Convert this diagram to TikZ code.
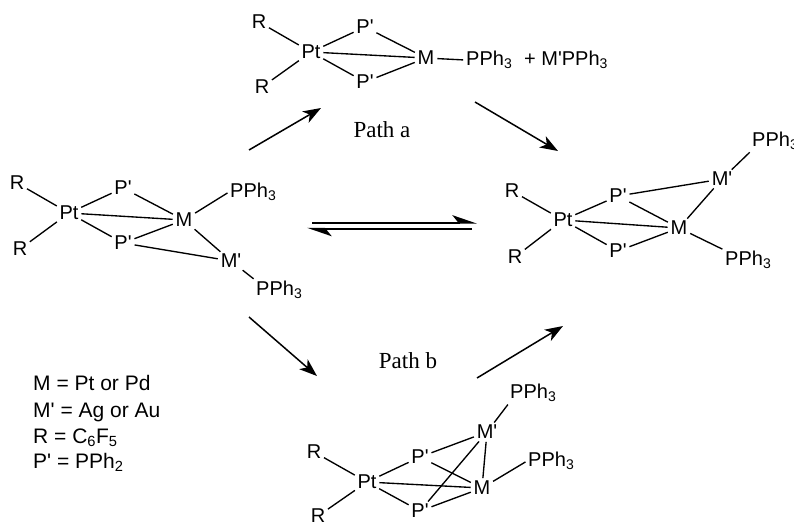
\documentclass[tikz,border=0pt]{standalone}
\usepackage{fontspec}
\setmainfont{Liberation Sans}
\newfontfamily\chemfont{Liberation Sans}
\newfontfamily\pathfont{Liberation Serif}
\usetikzlibrary{arrows.meta}
\tikzset{
  atom/.style={inner sep=1pt,font=\fontsize{20}{22}\chemfont},
  bond/.style={line width=1.35pt,shorten >=1.8pt,shorten <=1.8pt},
  rxn/.style={line width=1.5pt,-{Stealth[length=18pt,width=13pt,inset=5pt]}},
  eqm/.style={line width=1.8pt,-{Stealth[left,length=22pt,width=15pt,inset=6pt]}},
  pathlabel/.style={inner sep=0pt,font=\fontsize{23}{26}\pathfont},
  legend/.style={inner sep=0pt,anchor=base west,font=\fontsize{21}{24}\chemfont}
}
\newcommand{\PPhT}{PPh\textsubscript{3}}
\begin{document}
\begin{tikzpicture}[x=1pt,y=-1pt]
\useasboundingbox (0,0) rectangle (794,523);
% top
\node[atom] (tR1) at (259,22) {R};
\node[atom] (tR2) at (262,87) {R};
\node[atom] (tPt) at (311,52) {Pt};
\node[atom] (tPu) at (365,27) {P'};
\node[atom] (tPd) at (365,82) {P'};
\node[atom] (tM) at (426,58) {M};
\node[atom,anchor=west] (tL) at (465,60) {\PPhT};
\node[atom,anchor=west] (tX) at (523,60) {+ M'\PPhT};
\draw[bond] (tR1)--(tPt); \draw[bond] (tR2)--(tPt);
\draw[bond] (tPt)--(tPu); \draw[bond] (tPt)--(tPd);
\draw[bond] (tPt)--(tM); \draw[bond] (tPu)--(tM);
\draw[bond] (tPd)--(tM); \draw[bond] (tM)--(tL.west);
% left
\node[atom] (lR1) at (17,183) {R};
\node[atom] (lR2) at (20,249) {R};
\node[atom] (lPt) at (69,213) {Pt};
\node[atom] (lPu) at (123,188) {P'};
\node[atom] (lPd) at (123,243) {P'};
\node[atom] (lM) at (184,220) {M};
\node[atom,anchor=west] (lL1) at (229,192) {\PPhT};
\node[atom] (lMp) at (231,261) {M'};
\node[atom,anchor=west] (lL2) at (255,290) {\PPhT};
\draw[bond] (lR1)--(lPt); \draw[bond] (lR2)--(lPt);
\draw[bond] (lPt)--(lPu); \draw[bond] (lPt)--(lPd);
\draw[bond] (lPt)--(lM); \draw[bond] (lPu)--(lM);
\draw[bond] (lPd)--(lM); \draw[bond] (lM)--(lL1.west);
\draw[bond] (lM)--(lMp); \draw[bond] (lPd)--(lMp);
\draw[bond] (lMp)--(lL2.north west);
% right
\node[atom] (rR1) at (512,191) {R};
\node[atom] (rR2) at (515,257) {R};
\node[atom] (rPt) at (563,220) {Pt};
\node[atom] (rPu) at (618,196) {P'};
\node[atom] (rPd) at (618,251) {P'};
\node[atom] (rM) at (679,228) {M};
\node[atom] (rMp) at (722,179) {M'};
\node[atom,anchor=west] (rL1) at (751,141) {\PPhT};
\node[atom,anchor=west] (rL2) at (724,260) {\PPhT};
\draw[bond] (rR1)--(rPt); \draw[bond] (rR2)--(rPt);
\draw[bond] (rPt)--(rPu); \draw[bond] (rPt)--(rPd);
\draw[bond] (rPt)--(rM); \draw[bond] (rPu)--(rM);
\draw[bond] (rPd)--(rM); \draw[bond] (rPu)--(rMp);
\draw[bond] (rM)--(rMp); \draw[bond] (rMp)--(rL1.south west);
\draw[bond] (rM)--(rL2.north west);
% bottom
\node[atom] (bR1) at (314,452) {R};
\node[atom] (bR2) at (318,516) {R};
\node[atom] (bPt) at (367,482) {Pt};
\node[atom] (bPu) at (420,457) {P'};
\node[atom] (bPd) at (420,511) {P'};
\node[atom] (bM) at (482,488) {M};
\node[atom] (bMp) at (487,432) {M'};
\node[atom,anchor=west] (bL1) at (509,393) {\PPhT};
\node[atom,anchor=west] (bL2) at (527,461) {\PPhT};
\draw[bond] (bR1)--(bPt); \draw[bond] (bR2)--(bPt);
\draw[bond] (bPt)--(bPu); \draw[bond] (bPt)--(bPd);
\draw[bond] (bPt)--(bM); \draw[bond] (bPu)--(bM);
\draw[bond] (bPd)--(bM); \draw[bond] (bPu)--(bMp);
\draw[bond] (bPd)--(bMp); \draw[bond] (bM)--(bMp);
\draw[bond] (bMp)--(bL1.south west); \draw[bond] (bM)--(bL2.west);
% reaction arrows
\coordinate (a1s) at (249,150); \coordinate (a1e) at (321,108);
\coordinate (a2s) at (475,102); \coordinate (a2e) at (558,151);
\coordinate (a3s) at (249,317); \coordinate (a3e) at (317,376);
\coordinate (a4s) at (477,378); \coordinate (a4e) at (563,326);
\draw[rxn] (a1s)--(a1e);
\draw[rxn] (a2s)--(a2e);
\draw[rxn] (a3s)--(a3e);
\draw[rxn] (a4s)--(a4e);
\coordinate (e1s) at (312,222.7); \coordinate (e1e) at (477,222.7);
\coordinate (e2s) at (472,228.7); \coordinate (e2e) at (307,228.7);
\draw[eqm] (e1s)--(e1e);
\draw[eqm] (e2s)--(e2e);
\node[pathlabel] (pa) at (382,130) {Path a};
\node[pathlabel] (pb) at (408,361) {Path b};
% legend
\node[legend] (k1) at (33,390) {M = Pt or Pd};
\node[legend] (k2) at (33,417) {M' = Ag or Au};
\node[legend] (k3) at (33,443) {R = C\textsubscript{6}F\textsubscript{5}};
\node[legend] (k4) at (33,468) {P' = PPh\textsubscript{2}};
\end{tikzpicture}
\end{document}
